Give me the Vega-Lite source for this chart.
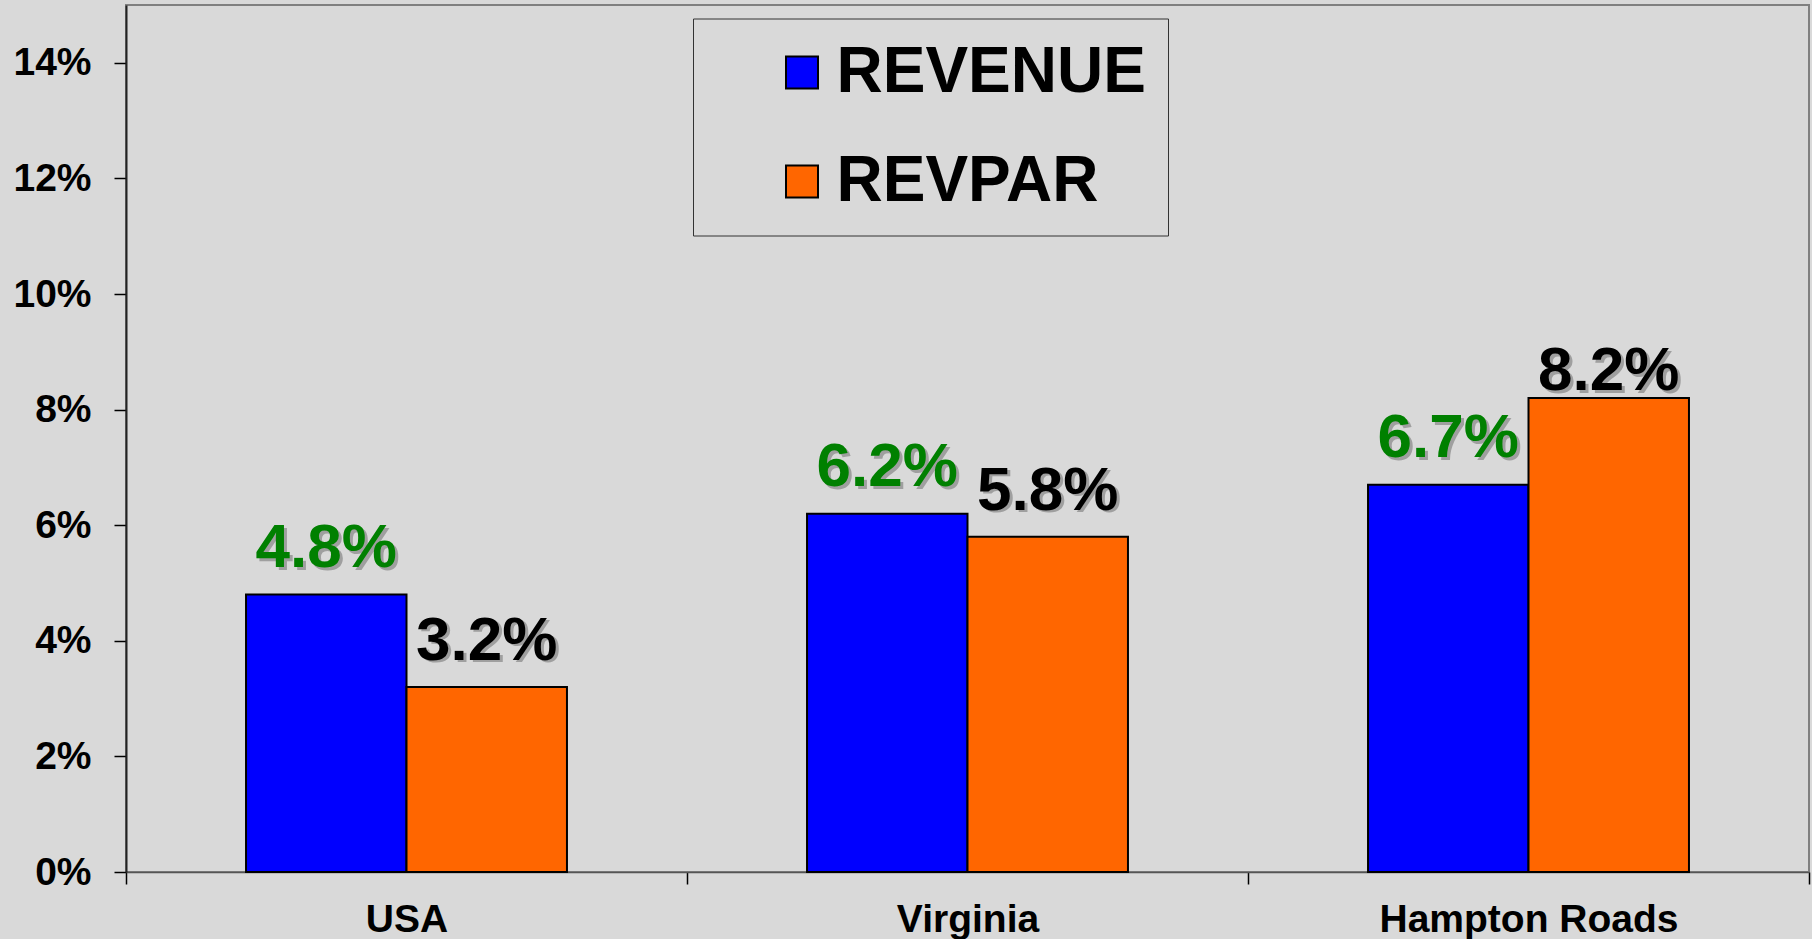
{
  "$schema": "https://vega.github.io/schema/vega-lite/v6.json",
  "width": 1683,
  "height": 867,
  "padding": {"left": 12, "top": 5, "right": 4, "bottom": 0},
  "autosize": {"type": "pad"},
  "background": "#d9d9d9",
  "config": {
    "view": {"stroke": "#808080", "strokeWidth": 2, "fill": "#d9d9d9"},
    "font": "Liberation Sans",
    "text": {"font": "Liberation Sans", "fontWeight": "bold", "fontSize": 62, "baseline": "alphabetic"}
  },
  "data": {
    "values": [
      {"region": "USA", "series": "REVENUE", "value": 0.048},
      {"region": "USA", "series": "REVPAR", "value": 0.032},
      {"region": "Virginia", "series": "REVENUE", "value": 0.062},
      {"region": "Virginia", "series": "REVPAR", "value": 0.058},
      {"region": "Hampton Roads", "series": "REVENUE", "value": 0.067},
      {"region": "Hampton Roads", "series": "REVPAR", "value": 0.082}
    ]
  },
  "encoding": {
    "x": {
      "field": "region",
      "type": "nominal",
      "sort": ["USA", "Virginia", "Hampton Roads"],
      "scale": {"paddingInner": 0, "paddingOuter": 0},
      "axis": {
        "title": null,
        "labelAngle": 0,
        "labelFont": "Liberation Sans",
        "labelFontWeight": "bold",
        "labelFontSize": 39,
        "labelColor": "black",
        "labelPadding": 16,
        "labelLimit": 0,
        "tickSize": 12,
        "tickColor": "black",
        "tickWidth": 1.5,
        "tickBand": "extent",
        "domainColor": "#555555",
        "domainWidth": 1.5
      }
    },
    "xOffset": {
      "field": "series",
      "type": "nominal",
      "sort": ["REVENUE", "REVPAR"],
      "scale": {"paddingInner": 0, "paddingOuter": 0.748}
    },
    "y": {
      "field": "value",
      "type": "quantitative",
      "scale": {"domain": [0, 0.15], "nice": false},
      "axis": {
        "title": null,
        "values": [0, 0.02, 0.04, 0.06, 0.08, 0.1, 0.12, 0.14],
        "format": ".0%",
        "grid": false,
        "labelFont": "Liberation Sans",
        "labelFontWeight": "bold",
        "labelFontSize": 39,
        "labelColor": "black",
        "labelPadding": 23,
        "tickSize": 12,
        "tickColor": "black",
        "tickWidth": 1.5,
        "domainColor": "#222222",
        "domainWidth": 2,
        "minExtent": 113,
        "maxExtent": 113
      }
    },
    "text": {"field": "value", "type": "quantitative", "format": ".1%"}
  },
  "layer": [
    {
      "mark": {"type": "bar", "stroke": "black", "strokeWidth": 2},
      "encoding": {
        "text": null,
        "color": {
          "field": "series",
          "type": "nominal",
          "scale": {"domain": ["REVENUE", "REVPAR"], "range": ["#0000ff", "#ff6600"]},
          "legend": {
            "title": null,
            "orient": "none",
            "legendX": 567,
            "legendY": 13.5,
            "direction": "vertical",
            "symbolType": "square",
            "symbolSize": 1024,
            "symbolStrokeColor": "black",
            "symbolStrokeWidth": 2,
            "labelFont": "Liberation Sans",
            "labelFontSize": 64,
            "labelFontWeight": "bold",
            "labelColor": "black",
            "labelOffset": 2.5,
            "symbolOffset": 55,
            "labelLimit": 0,
            "padding": 22,
            "rowPadding": 45,
            "strokeColor": "#333333",
            "encode": {
              "legend": {"update": {"width": {"value": 531}}}
            }
          }
        }
      }
    },
    {
      "transform": [{"filter": "datum.value < 0.08"}],
      "mark": {"type": "text", "fill": "#7a7a7a", "opacity": 0.6, "dx": 3, "dy": -25}
    },
    {
      "transform": [{"filter": "datum.value >= 0.08"}],
      "mark": {"type": "text", "fill": "#7a7a7a", "opacity": 0.6, "dx": 3, "dy": -5}
    },
    {
      "transform": [{"filter": "datum.series == 'REVENUE'"}],
      "mark": {"type": "text", "fill": "#008000", "dy": -28}
    },
    {
      "transform": [{"filter": "datum.series == 'REVPAR' && datum.value < 0.08"}],
      "mark": {"type": "text", "fill": "#000000", "dy": -27}
    },
    {
      "transform": [{"filter": "datum.series == 'REVPAR' && datum.value >= 0.08"}],
      "mark": {"type": "text", "fill": "#000000", "dy": -8}
    }
  ]
}
